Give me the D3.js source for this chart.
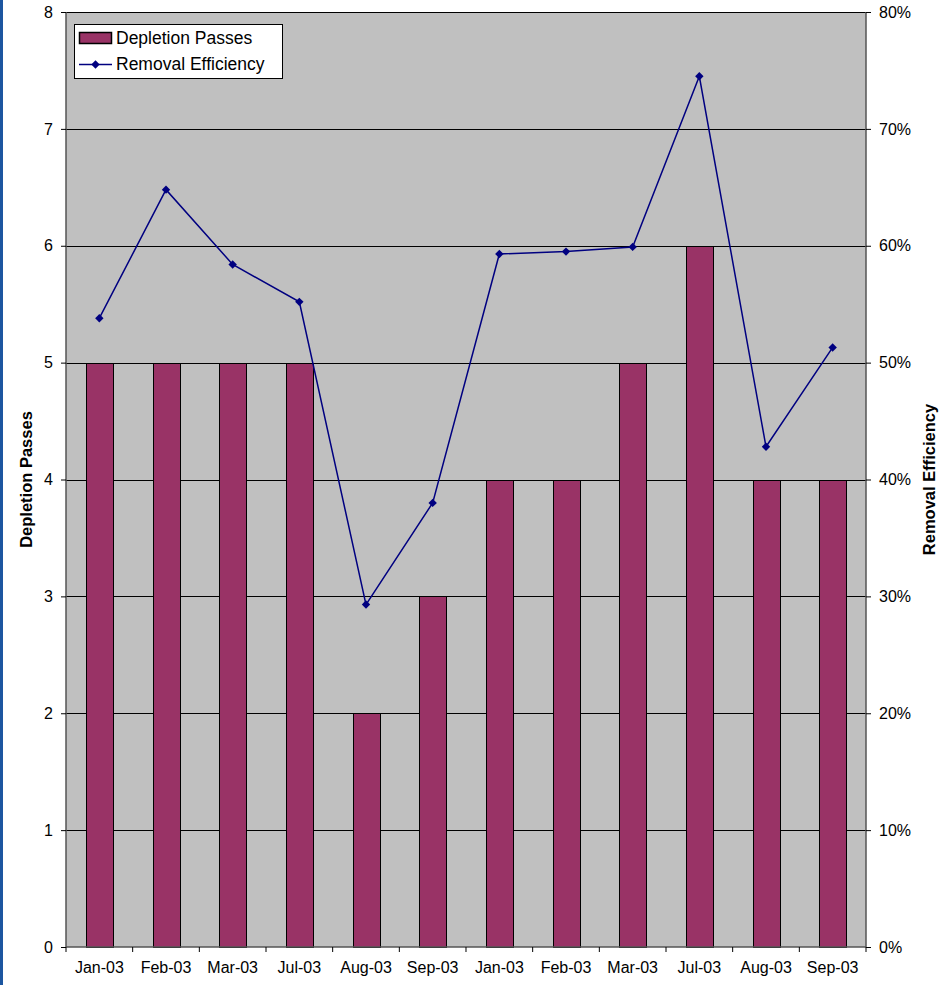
<!DOCTYPE html>
<html>
<head>
<meta charset="utf-8">
<script src="https://cdn.jsdelivr.net/npm/d3@7"></script>
<style>
  body { margin: 0; background: #fff; }
  svg { display: block; font-family: "Liberation Sans", Arial, sans-serif; }
</style>
</head>
<body>
<div id="chart"></div>
<script>
const months = ["Jan-03", "Feb-03", "Mar-03", "Jul-03", "Aug-03", "Sep-03",
                "Jan-03", "Feb-03", "Mar-03", "Jul-03", "Aug-03", "Sep-03"];
const depletionPasses = [5, 5, 5, 5, 2, 3, 4, 4, 5, 6, 4, 4];
const removalEfficiency = [0.538, 0.648, 0.584, 0.552, 0.293, 0.380,
                           0.593, 0.595, 0.599, 0.745, 0.428, 0.513];
const leftTicks = [0, 1, 2, 3, 4, 5, 6, 7, 8];
const rightTicks = [0, 0.1, 0.2, 0.3, 0.4, 0.5, 0.6, 0.7, 0.8];

const width = 942, height = 985;
const plot = { left: 66, right: 866, top: 12, bottom: 947 };

const svg = d3.select("#chart").append("svg")
  .attr("width", width)
  .attr("height", height);

// blue frame edge on the left
svg.append("rect")
  .attr("x", 0).attr("y", 0)
  .attr("width", 3).attr("height", height)
  .attr("fill", "#1c56a0");

// scales
const xOuter = d3.scaleBand()
  .domain(d3.range(months.length))
  .range([plot.left, plot.right]);
const yLeft = d3.scaleLinear().domain([0, 8]).range([plot.bottom, plot.top]);
const yRight = d3.scaleLinear().domain([0, 0.8]).range([plot.bottom, plot.top]);

// plot background
svg.append("rect")
  .attr("x", plot.left).attr("y", plot.top)
  .attr("width", plot.right - plot.left)
  .attr("height", plot.bottom - plot.top)
  .attr("fill", "#c0c0c0");

// gridlines
svg.append("g")
  .selectAll("line")
  .data(leftTicks.slice(1))
  .join("line")
  .attr("x1", plot.left).attr("x2", plot.right)
  .attr("y1", d => Math.round(yLeft(d)) + 0.5)
  .attr("y2", d => Math.round(yLeft(d)) + 0.5)
  .attr("stroke", "#000")
  .attr("stroke-width", 1);

// bars
svg.append("g")
  .selectAll("rect")
  .data(depletionPasses)
  .join("rect")
  .attr("x", (d, i) => Math.round(xOuter(i) + xOuter.bandwidth() * 0.3) + 0.5)
  .attr("y", d => Math.round(yLeft(d)) + 0.5)
  .attr("width", Math.round(xOuter.bandwidth() * 0.4))
  .attr("height", d => Math.round(yLeft(0)) - Math.round(yLeft(d)))
  .attr("fill", "#993366")
  .attr("stroke", "#000")
  .attr("stroke-width", 1);

// axes
const axisColor = "#000";
const leftAxis = svg.append("g")
  .attr("transform", `translate(${plot.left},0)`)
  .call(d3.axisLeft(yLeft).tickValues(leftTicks).tickSize(5).tickPadding(8).tickFormat(d3.format("d")));
const rightAxis = svg.append("g")
  .attr("transform", `translate(${plot.right},0)`)
  .call(d3.axisRight(yRight).tickValues(rightTicks).tickSize(5).tickPadding(8).tickFormat(d3.format(".0%")));
const bottomAxis = svg.append("g")
  .attr("transform", `translate(0,${plot.bottom})`)
  .call(d3.axisBottom(xOuter).tickSize(5).tickPadding(10).tickFormat(i => months[i]));

// move bottom ticks to band boundaries
bottomAxis.selectAll(".tick line")
  .attr("x1", xOuter.bandwidth() / 2).attr("x2", xOuter.bandwidth() / 2);
bottomAxis.append("line")
  .attr("x1", plot.left).attr("x2", plot.left)
  .attr("y1", 0).attr("y2", 5).attr("stroke", axisColor);

[leftAxis, rightAxis, bottomAxis].forEach(a => {
  a.select(".domain").attr("stroke", "#555").attr("stroke-width", 1.5);
  a.selectAll(".tick line").attr("stroke", axisColor);
  a.selectAll("text").attr("font-size", 16).attr("fill", "#000")
    .attr("font-family", "'Liberation Sans', Arial, sans-serif");
});
leftAxis.select(".domain").attr("d", `M0,${plot.top}V${plot.bottom}`);
rightAxis.select(".domain").attr("d", `M0,${plot.top}V${plot.bottom}`);
bottomAxis.select(".domain").attr("d", `M${plot.left},0H${plot.right}`);

// line series
const line = d3.line()
  .x((d, i) => xOuter(i) + xOuter.bandwidth() / 2)
  .y(d => yRight(d));
svg.append("path")
  .datum(removalEfficiency)
  .attr("fill", "none")
  .attr("stroke", "#000080")
  .attr("stroke-width", 1.5)
  .attr("d", line);
const diamond = d3.symbol().type(d3.symbolDiamond2).size(45);
svg.append("g")
  .selectAll("path")
  .data(removalEfficiency)
  .join("path")
  .attr("transform", (d, i) => `translate(${xOuter(i) + xOuter.bandwidth() / 2},${yRight(d)})`)
  .attr("d", diamond)
  .attr("fill", "#000080");

// axis titles
svg.append("text")
  .attr("transform", `translate(32,${(plot.top + plot.bottom) / 2}) rotate(-90)`)
  .attr("text-anchor", "middle")
  .attr("font-size", 16.5).attr("font-weight", "bold")
  .text("Depletion Passes");
svg.append("text")
  .attr("transform", `translate(935,${(plot.top + plot.bottom) / 2}) rotate(-90)`)
  .attr("text-anchor", "middle")
  .attr("font-size", 16.5).attr("font-weight", "bold")
  .text("Removal Efficiency");

// legend
const legend = svg.append("g").attr("transform", "translate(74,24)");
legend.append("rect")
  .attr("x", 0.5).attr("y", 0.5)
  .attr("width", 208).attr("height", 54)
  .attr("fill", "#fff").attr("stroke", "#000");
legend.append("rect")
  .attr("x", 5.5).attr("y", 8.5).attr("width", 32).attr("height", 11)
  .attr("fill", "#993366").attr("stroke", "#000").attr("stroke-width", 1.5);
legend.append("text")
  .attr("x", 42).attr("y", 20)
  .attr("font-size", 17.5).text("Depletion Passes");
legend.append("line")
  .attr("x1", 5).attr("x2", 38).attr("y1", 40.5).attr("y2", 40.5)
  .attr("stroke", "#000080").attr("stroke-width", 1.5);
legend.append("path")
  .attr("transform", "translate(21.5,40.5)")
  .attr("d", diamond).attr("fill", "#000080");
legend.append("text")
  .attr("x", 42).attr("y", 46)
  .attr("font-size", 17.5).text("Removal Efficiency");
</script>
</body>
</html>
